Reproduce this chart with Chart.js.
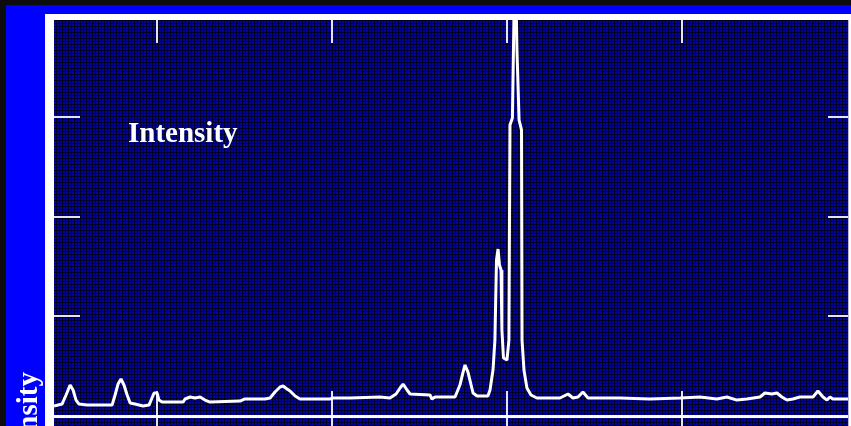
<!DOCTYPE html>
<html>
<head>
<meta charset="utf-8">
<script src="https://cdn.jsdelivr.net/npm/chart.js@4/dist/chart.umd.min.js"></script>
<style>
  html, body { margin: 0; padding: 0; background: #0c0c0c; }
  #wrap { width: 851px; height: 426px; }
</style>
</head>
<body>
<div id="wrap"><canvas id="c" width="851" height="426"></canvas></div>
<script>
// Spectrum trace: position along the axis and measured intensity
const positions = [41.1,45.7,48.0,50.3,52.0,53.7,55.4,60.0,67.4,74.3,76.0,77.7,79.4,81.1,82.9,84.6,87.4,92.0,95.4,97.1,98.3,100,101.1,102.9,107.4,114.9,116.0,118.9,121.7,124.6,127.4,130.3,147.4,150.3,161.7,164.6,167.4,170.3,172.0,174.3,176.0,178.9,181.7,198.9,200,210.3,227.4,233.1,236.6,238.9,240.6,242.9,244.6,256.0,257.1,258.9,267.4,270.3,273.1,274.9,276.0,277.7,280.6,282.9,289.1,290.3,292.0,293.1,294.0,294.9,295.7,296.6,297.1,298.0,300.0,301.1,301.7,303.1,303.7,304.6,305.7,306.9,308.3,308.6,309.7,311.4,313.7,317.1,330.3,334.9,337.7,340.6,343.4,346.3,351.4,364.6,381.7,398.9,410.3,420.0,425.7,431.4,437.1,444.6,447.4,451.4,454.3,457.1,460.0,463.4,467.4,474.9,477.7,480.6,482.9,484.6,486.3,494.9];
const intensity = [10.0,12.0,21.1,31.1,26.1,16.0,12.0,11.0,11.0,11.0,21.1,32.1,37.1,31.1,21.1,13.0,12.0,10.0,11.0,18.1,23.1,23.1,16.0,14.0,14.0,14.0,17.1,19.1,18.1,19.1,16.0,14.0,15.0,17.1,17.1,18.1,24.1,29.1,30.1,27.1,25.1,20.1,17.1,17.1,18.1,18.1,19.1,18.1,22.1,28.1,32.1,26.1,22.1,21.1,17.1,19.1,19.1,19.1,31.1,44.1,51.2,44.1,23.1,20.1,20.1,26.1,46.1,76.2,156.5,167.5,151.5,146.4,86.3,58.2,56.2,76.2,291.9,298.9,367.1,477.4,367.1,296.9,286.9,76.2,46.1,28.1,21.1,18.1,18.1,22.1,18.1,19.1,24.1,18.1,18.1,18.1,17.1,18.1,19.1,17.1,19.1,16.0,17.1,19.1,23.1,22.1,23.1,19.1,16.0,17.1,19.1,19.1,25.1,19.1,16.0,19.1,17.1,17.1];

// Tick marks (no labels are printed)
const xTicks = [100, 200, 300, 400];
const yTicks = [100, 200, 300];
const axisTitle = 'Intensity';

// Scale ranges
const xRange = [41.1, 494.9];
const yRange = [-10, 397.2];

function makeGridPattern(ctx) {
  const t = document.createElement('canvas');
  t.width = 6; t.height = 6;
  const g = t.getContext('2d');
  g.fillStyle = '#05059c';
  g.fillRect(0, 0, 6, 6);
  g.fillStyle = '#00002a';
  for (let i = 0; i < 6; i += 3) {
    g.fillRect(i + 2, 0, 1, 6);
    g.fillRect(0, i + 2, 6, 1);
  }
  g.fillStyle = '#000010';
  g.fillRect(2, 2, 1, 1);
  g.fillRect(5, 5, 1, 1);
  return ctx.createPattern(t, 'repeat');
}

const framePlugin = {
  id: 'frame',
  beforeDraw(chart) {
    const ctx = chart.ctx;
    const { left, top, right, bottom } = chart.chartArea;
    const W = chart.width, H = chart.height;
    ctx.save();
    ctx.fillStyle = '#0c0c0c';
    ctx.fillRect(0, 0, W, H);
    ctx.fillStyle = '#0000ff';
    ctx.fillRect(6, 5, W - 6, H - 5);
    // white border
    ctx.fillStyle = '#ffffff';
    ctx.fillRect(45, 14, W - 45, top - 14);
    ctx.fillRect(45, 14, left - 45, H - 14);
    ctx.fillRect(right, 14, W - right, H - 14);
    // plot surface
    ctx.fillStyle = makeGridPattern(ctx);
    ctx.fillRect(left, top, right - left, bottom - top);
    ctx.fillStyle = '#b8b8d0';
    ctx.fillRect(right, top, 1, bottom - top);
    ctx.restore();
  },
  beforeDatasetsDraw(chart) {
    const ctx = chart.ctx;
    const { left, top, right, bottom } = chart.chartArea;
    const xs = chart.scales.x, ys = chart.scales.y;
    ctx.save();
    ctx.fillStyle = '#e4e4ee';
    xTicks.forEach(v => {
      const px = Math.round(xs.getPixelForValue(v));
      ctx.fillRect(px - 1, top, 2, 23);
      ctx.fillRect(px - 1, ys.getPixelForValue(0) - 25, 2, bottom - ys.getPixelForValue(0) + 25);
    });
    yTicks.forEach(v => {
      const py = Math.round(ys.getPixelForValue(v));
      ctx.fillRect(left, py - 1, 26, 2);
      ctx.fillRect(right - 20, py - 1, 20, 2);
    });
    ctx.restore();
  },
  afterDatasetsDraw(chart) {
    const ctx = chart.ctx;
    const { left, right } = chart.chartArea;
    const ys = chart.scales.y;
    const y0 = ys.getPixelForValue(0);
    ctx.save();
    ctx.fillStyle = '#ffffff';
    ctx.fillRect(left, y0 - 1, right - left, 3);
    // titles
    ctx.fillStyle = '#ffffff';
    ctx.font = 'bold 29px "Liberation Serif", "Times New Roman", serif';
    ctx.textBaseline = 'alphabetic';
    ctx.textAlign = 'left';
    ctx.fillText(axisTitle, 128, 142);
    ctx.translate(37, 372);
    ctx.rotate(-Math.PI / 2);
    ctx.textAlign = 'right';
    ctx.fillText(axisTitle, 0, 0);
    ctx.restore();
  }
};

new Chart(document.getElementById('c'), {
  type: 'line',
  data: {
    datasets: [{
      data: positions.map((x, i) => ({ x, y: intensity[i] })),
      borderColor: '#ffffff',
      borderWidth: 3,
      borderJoinStyle: 'bevel',
      pointRadius: 0,
      tension: 0,
      fill: false
    }]
  },
  options: {
    responsive: false,
    animation: false,
    events: [],
    layout: { padding: { left: 54, top: 20, right: 3, bottom: 0 } },
    plugins: { legend: { display: false }, tooltip: { enabled: false } },
    scales: {
      x: { type: 'linear', min: xRange[0], max: xRange[1], display: false },
      y: { type: 'linear', min: yRange[0], max: yRange[1], display: false }
    }
  },
  plugins: [framePlugin]
});
</script>
</body>
</html>
